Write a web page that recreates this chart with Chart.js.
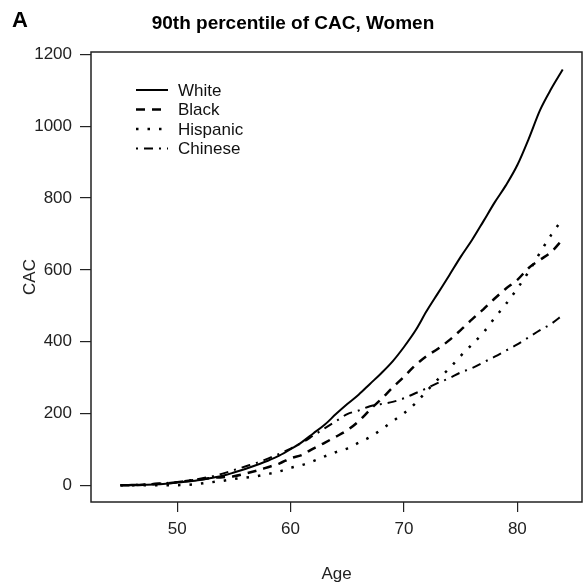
<!DOCTYPE html>
<html>
<head>
<meta charset="utf-8">
<script src="https://cdn.jsdelivr.net/npm/chart.js@4"></script>
<style>
  body { margin: 0; background: #fff; }
  canvas { display: block; }
</style>
</head>
<body>
<canvas id="cacChart" width="586" height="585"></canvas>
<script>
// 90th percentile of CAC by age, women
const ages = [45, 46, 47, 48, 49, 50, 51, 52, 53, 54, 55, 56, 57, 58, 59, 60, 61, 62, 63, 64,
              65, 66, 67, 68, 69, 70, 71, 72, 73, 74, 75, 76, 77, 78, 79, 80, 81, 82, 83, 84];
const white = [0, 0, 1, 2, 4, 7, 10, 14, 20, 26, 35, 45, 56, 68, 82, 100, 120, 144, 168, 198,
               226, 252, 282, 312, 345, 385, 430, 485, 535, 585, 636, 683, 735, 788, 836, 892, 965, 1045, 1105, 1158];
const black = [0, 0, 1, 3, 5, 8, 12, 16, 20, 22, 25, 32, 40, 50, 60, 75, 84, 102, 118, 135,
               153, 178, 210, 240, 272, 302, 334, 360, 380, 404, 432, 462, 490, 520, 548, 572, 605, 628, 650, 685];
const hispanic = [0, 0, 0, 0, 0, 0, 1, 4, 8, 12, 17, 21, 25, 31, 38, 48, 56, 67, 80, 92,
                  102, 118, 134, 155, 178, 200, 228, 262, 295, 325, 360, 392, 425, 466, 505, 548, 595, 648, 698, 742];
const chinese = [0, 1, 2, 4, 6, 9, 13, 18, 24, 32, 42, 52, 62, 74, 87, 102, 118, 138, 158, 178,
                 198, 208, 220, 226, 232, 242, 256, 270, 285, 298, 314, 326, 342, 358, 375, 392, 412, 432, 450, 474];
const seriesNames = ["White", "Black", "Hispanic", "Chinese"];
const xTicks = [50, 60, 70, 80];
const yTicks = [0, 200, 400, 600, 800, 1000, 1200];

const FONT = "'Liberation Sans', Arial, Helvetica, sans-serif";
const dashes = [[], [9, 7], [2.5, 9], [2, 6, 9, 6]];
const widths = [2, 2.5, 2.5, 2];

function pts(vals) {
  return ages.map((a, i) => ({ x: a, y: vals[i] }));
}

const datasets = [white, black, hispanic, chinese].map((vals, i) => ({
  label: seriesNames[i],
  data: pts(vals),
  borderColor: "#000",
  borderWidth: widths[i],
  borderDash: dashes[i],
  pointRadius: 0,
  fill: false,
  cubicInterpolationMode: "monotone"
}));

// frame, panel letter, title and legend as in the original figure
const decor = {
  id: "decor",
  afterDraw(chart) {
    const { ctx, chartArea: a } = chart;
    ctx.save();
    ctx.strokeStyle = "#222";
    ctx.lineWidth = 1.5;
    ctx.strokeRect(a.left, a.top, a.right - a.left, a.bottom - a.top);

    ctx.fillStyle = "#000";
    ctx.textBaseline = "middle";
    ctx.font = "bold 22px " + FONT;
    ctx.textAlign = "left";
    ctx.fillText("A", 12, 21);
    ctx.font = "bold 19px " + FONT;
    ctx.textAlign = "center";
    ctx.fillText("90th percentile of CAC, Women", chart.width / 2, 24);

    ctx.font = "17px " + FONT;
    ctx.textAlign = "left";
    chart.data.datasets.forEach((ds, i) => {
      const y = 90 + i * 19.5;
      ctx.beginPath();
      ctx.setLineDash(ds.borderDash);
      ctx.lineWidth = ds.borderWidth;
      ctx.strokeStyle = "#000";
      ctx.moveTo(136, y);
      ctx.lineTo(168, y);
      ctx.stroke();
      ctx.setLineDash([]);
      ctx.fillStyle = "#111";
      ctx.fillText(ds.label, 178, y + 1);
    });
    ctx.restore();
  }
};

new Chart(document.getElementById("cacChart"), {
  type: "line",
  data: { datasets: datasets },
  options: {
    responsive: false,
    animation: false,
    layout: { padding: { top: 52, right: 4, left: 0, bottom: 0 } },
    plugins: { legend: { display: false }, title: { display: false }, tooltip: { enabled: false } },
    scales: {
      x: {
        type: "linear",
        min: 42.4,
        max: 85.7,
        afterBuildTicks: s => { s.ticks = xTicks.map(v => ({ value: v })); },
        afterFit: s => { s.height = 83; },
        grid: { drawOnChartArea: false, drawTicks: true, tickLength: 10, color: "#222", lineWidth: 1.2 },
        border: { display: false },
        ticks: { color: "#222", padding: 7, font: { family: FONT, size: 17 }, maxRotation: 0,
                 callback: v => String(v) },
        title: { display: true, text: "Age", color: "#222", font: { family: FONT, size: 17 }, padding: { top: 0, bottom: 0 } }
      },
      y: {
        type: "linear",
        min: -47,
        max: 1207,
        afterBuildTicks: s => { s.ticks = yTicks.map(v => ({ value: v })); },
        afterFit: s => { s.width = 91; },
        grid: { drawOnChartArea: false, drawTicks: true, tickLength: 11, color: "#222", lineWidth: 1.2 },
        border: { display: false },
        ticks: { color: "#222", padding: 8, font: { family: FONT, size: 17 },
                 callback: v => String(v) },
        title: { display: true, text: "CAC", color: "#222", font: { family: FONT, size: 17 }, padding: { top: 20, bottom: 0 } }
      }
    }
  },
  plugins: [decor]
});
</script>
</body>
</html>
